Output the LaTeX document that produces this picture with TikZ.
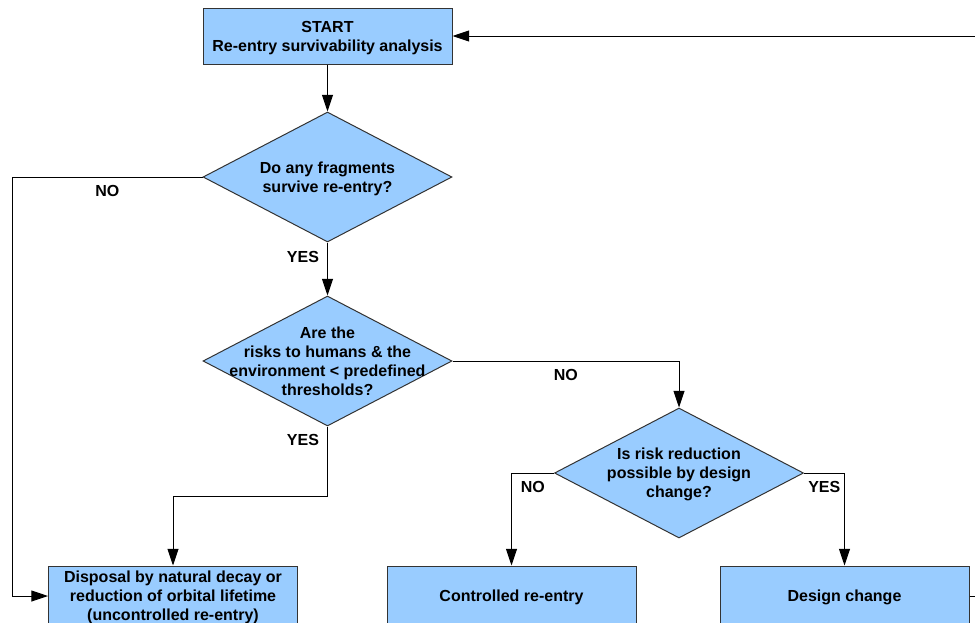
\documentclass[tikz,border=0pt]{standalone}
\usepackage{fontspec}
\setmainfont{Liberation Sans}
\usetikzlibrary{shapes.geometric,arrows.meta,positioning}
\definecolor{boxblue}{HTML}{99CCFF}
\definecolor{edgegray}{HTML}{333333}
\tikzset{
	box/.style={rectangle, draw=edgegray, fill=boxblue, line width=0.75pt, align=center,
		minimum width=186.75pt, text depth=0pt, font=\bfseries\fontsize{12}{14.2}\selectfont},
	decision/.style={diamond, aspect=1.92, draw=edgegray, fill=boxblue, line width=0.75pt, align=center,
		inner sep=-20pt, minimum width=186.75pt, minimum height=97.5pt, text depth=0pt,
		font=\bfseries\fontsize{12}{14.2}\selectfont},
	arr/.style={-{Triangle[length=12.5pt,width=8.25pt]}, line width=0.75pt},
	lbl/.style={font=\bfseries\fontsize{12}{14.2}\selectfont, inner sep=2pt}
}
\begin{document}
\begin{tikzpicture}[x=0.75pt, y=-0.75pt]
	\useasboundingbox (0,0) rectangle (975,622);
	\clip (0,0) rectangle (975,622);
	
	\node (start) [box, minimum height=42pt] at (327.5,36) {START\\Re-entry survivability analysis};
	\node (survive) [decision] at (327.5,177) {Do any fragments\\survive re-entry?};
	\node (risk) [decision] at (327.5,361) {Are the\\risks to humans \& the\\environment < predefined\\thresholds?};
	\node (redesign) [decision] at (679,473) {Is risk reduction\\possible by design\\change?};
	\node (disposal) [box, minimum height=45pt] at (173,596) {Disposal by natural decay or\\reduction of orbital lifetime\\(uncontrolled re-entry)};
	\node (controlled) [box, minimum height=45pt] at (511.5,596) {Controlled re-entry};
	\node (design) [box, minimum height=45pt] at (844.5,596) {Design change};
	
	% rails and bends
	\coordinate (leftrail) at (12,0);
	\coordinate (rightrail) at (1000,0);
	\coordinate (bend) at (0,496);
	
	\draw[arr] (start) -- (survive);
	\draw[arr] (survive) -- node[lbl, pos=0.28, left=4pt] {YES} (risk);
	\draw[arr] (survive.west) -- node[lbl, below=4pt] {NO} (survive.west -| leftrail) |- (disposal.west);
	\draw[arr] (risk.east) -| node[lbl, pos=0.25, below=4pt] {NO} (redesign.north);
	\draw[arr] (risk.south) -- node[lbl, pos=0.2, left=4pt] {YES} (risk.south |- bend) -| (disposal.north);
	\draw[arr] (redesign.west) -| node[lbl, pos=0.25, below=4pt] {NO} (controlled.north);
	\draw[arr] (redesign.east) -| node[lbl, pos=0.25, below=4pt] {YES} (design.north);
	\draw[arr] (design.east) -- (design.east -| rightrail) |- (start.east);
\end{tikzpicture}
\end{document}
